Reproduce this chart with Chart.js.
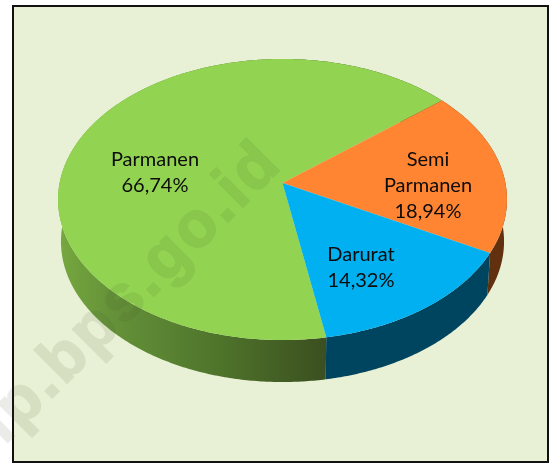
<!DOCTYPE html>
<html><head><meta charset="utf-8">
<script src="https://cdn.jsdelivr.net/npm/chart.js@4"></script>
<style>html,body{margin:0;padding:0;background:#fff}canvas{display:block}</style>
</head><body><canvas id="c" width="551" height="463"></canvas>
<script>
const categories = ['Parmanen', 'Semi Parmanen', 'Darurat'];
const labelLines = [['Parmanen'], ['Semi', 'Parmanen'], ['Darurat']];
const values = [66.74, 18.94, 14.32];
const topColors = ['#92D451', '#FF8533', '#00B0F0'];
const watermark = 'ip.bps.go.id';

// 3D look: a projective view of the unit circle, with the rim below it
const view = {cx: 282.5, cy: 183, R: 222.9, a: 138.6, p: 0.1174, depth: 42, shrink: 0.987};
const labelAnchors = [[155, 160], [428, 160], [361, 255]];
const labelStep = 26;

function project(t, low) {
  const u = Math.cos(t), v = Math.sin(t), w = 1 - view.p * v;
  let x = view.R * u / w, y = view.a * v / w;
  if (low) { x *= view.shrink; y += view.depth; }
  return [view.cx + x, view.cy + y];
}
function trace(ctx, a0, a1, low, first) {
  const n = Math.max(2, Math.ceil(Math.abs(a1 - a0) / 0.01));
  for (let i = 0; i <= n; i++) {
    const p = project(a0 + (a1 - a0) * i / n, low);
    if (i === 0 && first) ctx.moveTo(p[0], p[1]); else ctx.lineTo(p[0], p[1]);
  }
}
function wallStyle(ctx, i) {
  if (i === 0) {
    const g = ctx.createLinearGradient(58, 0, 326, 0);
    g.addColorStop(0, '#76A83F');
    g.addColorStop(0.2, '#659239');
    g.addColorStop(0.6, '#4E742B');
    g.addColorStop(1, '#3B4F20');
    return g;
  }
  return i === 1 ? '#61300F' : '#00455F';
}

const perspective = {
  id: 'perspective',
  beforeDraw(chart) {
    const ctx = chart.ctx;
    ctx.save();
    ctx.fillStyle = '#fff';
    ctx.fillRect(0, 0, chart.width, chart.height);
    ctx.fillStyle = '#E8F0D5';
    ctx.fillRect(12, 5, 536, 457);
    ctx.strokeStyle = '#111';
    ctx.lineWidth = 2;
    ctx.strokeRect(13, 6, 535, 456);
    ctx.restore();
  },
  beforeDatasetsDraw(chart) {
    const ctx = chart.ctx, arcs = chart.getDatasetMeta(0).data;
    arcs.forEach((el, i) => {
      ctx.save();
      ctx.beginPath();
      trace(ctx, el.startAngle, el.endAngle, false, true);
      trace(ctx, el.endAngle, el.startAngle, true, false);
      ctx.closePath();
      ctx.fillStyle = wallStyle(ctx, i);
      ctx.fill();
      ctx.restore();
      el.draw = function (c) {
        c.save();
        c.beginPath();
        c.moveTo(view.cx, view.cy);
        trace(c, this.startAngle, this.endAngle, false, false);
        c.closePath();
        c.fillStyle = this.options.backgroundColor;
        c.fill();
        c.restore();
      };
    });
  },
  afterDatasetsDraw(chart) {
    const ctx = chart.ctx;
    ctx.save();
    ctx.fillStyle = '#0c0c0c';
    ctx.font = '20px Lato, "Open Sans", sans-serif';
    ctx.textAlign = 'center';
    ctx.textBaseline = 'middle';
    values.forEach((v, i) => {
      const lines = labelLines[i].concat(v.toFixed(2).replace('.', ',') + '%');
      lines.forEach((t, k) => {
        ctx.fillText(t, labelAnchors[i][0], labelAnchors[i][1] + k * labelStep);
      });
    });
    ctx.restore();

    // faint diagonal stamp, composed separately so its outline does not double up
    const layer = document.createElement('canvas');
    layer.width = chart.width;
    layer.height = chart.height;
    const w = layer.getContext('2d');
    w.translate(132, 293);
    w.rotate(-Math.PI / 4);
    w.fillStyle = w.strokeStyle = '#46502a';
    w.lineWidth = 2;
    w.font = 'bold 64px "Liberation Sans", sans-serif';
    w.letterSpacing = '3px';
    w.textAlign = 'center';
    w.textBaseline = 'middle';
    w.strokeText(watermark, 0, 0);
    w.fillText(watermark, 0, 0);
    ctx.save();
    ctx.globalAlpha = 0.1;
    ctx.drawImage(layer, 0, 0);
    ctx.restore();
  }
};

new Chart(document.getElementById('c'), {
  type: 'pie',
  data: {
    labels: categories,
    datasets: [{data: values, backgroundColor: topColors, borderWidth: 0}]
  },
  options: {
    responsive: false,
    animation: false,
    rotation: 170,
    plugins: {legend: {display: false}, tooltip: {enabled: false}}
  },
  plugins: [perspective]
});
</script></body></html>
